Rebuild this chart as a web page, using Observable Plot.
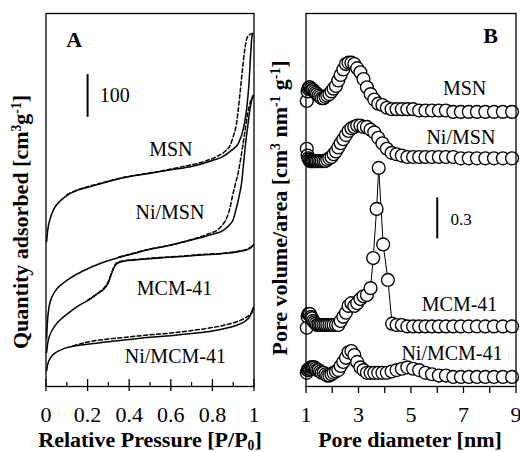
<!DOCTYPE html>
<html>
<head>
<meta charset="utf-8">
<script src="https://cdn.jsdelivr.net/npm/d3@7"></script>
<script src="https://cdn.jsdelivr.net/npm/@observablehq/plot@0.6"></script>
<style>
  html, body { margin: 0; padding: 0; background: #fff; }
  #fig { position: relative; width: 520px; height: 452px; font-family: "Liberation Serif", "Times New Roman", serif; color: #000; }
  #fig svg { position: absolute; top: 0; }
  .title { position: absolute; z-index: 2; font-weight: bold; font-size: 22px; line-height: 1; white-space: nowrap; }
  .title sup { font-size: 0.62em; vertical-align: 0.5em; line-height: 0; }
  .title sub { font-size: 0.62em; vertical-align: -0.25em; line-height: 0; }
  .ylab { transform: translate(-50%, -50%) rotate(-90deg); }
  .xlab { transform: translateX(-50%); }
</style>
</head>
<body>
<div id="fig">
  <div class="title ylab" style="left:20.5px; top:222px;">Quantity adsorbed [cm<sup>3</sup>g<sup>-1</sup>]</div>
  <div class="title ylab" style="left:280px; top:207.5px;">Pore volume/area [cm<sup>3</sup> nm<sup>-1</sup> g<sup>-1</sup>]</div>
  <div class="title xlab" style="left:150px; top:428.6px;">Relative Pressure [P/P<sub>0</sub>]</div>
  <div class="title xlab" style="left:410px; top:428.6px;">Pore diameter [nm]</div>
</div>
<script>
// ---- Panel A: N2 isotherms (quantity in cm3/g, curves stacked with offsets) ----
const samples = ["MSN", "Ni/MSN", "MCM-41", "Ni/MCM-41"];

const msnAdsP = [0.003, 0.008, 0.02, 0.04, 0.07, 0.1, 0.15, 0.2, 0.3, 0.42, 0.5, 0.6, 0.7, 0.8, 0.85, 0.89, 0.925, 0.95, 0.965, 0.975, 0.985, 0.99, 0.995];
const msnAdsQ = [339, 365, 393, 417, 435, 447, 459, 466, 480, 493, 499, 507, 515, 529, 538, 552, 569, 606, 651, 704, 786, 819, 826];
const msnDesP = [0.1, 0.15, 0.25, 0.35, 0.45, 0.55, 0.65, 0.75, 0.82, 0.86, 0.885, 0.9, 0.915, 0.925, 0.935, 0.945, 0.955, 0.965, 0.975, 0.985, 0.995];
const msnDesQ = [449, 460, 474, 487, 496, 504, 514, 525, 538, 550, 564, 585, 613, 651, 697, 744, 786, 814, 822, 825, 826];

const niMsnAdsP = [0.003, 0.008, 0.015, 0.03, 0.05, 0.08, 0.12, 0.18, 0.26, 0.35, 0.42, 0.5, 0.58, 0.66, 0.74, 0.8, 0.85, 0.88, 0.9, 0.915, 0.93, 0.94, 0.95, 0.96, 0.97, 0.98, 0.99, 0.997];
const niMsnAdsQ = [112, 159, 187, 211, 227, 241, 255, 271, 288, 302, 311, 321, 329, 338, 348, 356, 365, 377, 391, 417, 449, 475, 522, 571, 609, 646, 672, 681];
const niMsnDesP = [0.35, 0.42, 0.5, 0.6, 0.7, 0.78, 0.825, 0.85, 0.87, 0.885, 0.897, 0.91, 0.925, 0.94, 0.955, 0.97, 0.985, 0.997];
const niMsnDesQ = [303, 312, 322, 331, 344, 357, 367, 379, 396, 419, 447, 473, 503, 545, 592, 639, 670, 681];

const mcmAdsP = [0.003, 0.008, 0.02, 0.04, 0.07, 0.1, 0.15, 0.2, 0.25, 0.28, 0.3, 0.315, 0.33, 0.345, 0.37, 0.45, 0.55, 0.65, 0.75, 0.85, 0.93, 0.97, 0.99, 0.997];
const mcmAdsQ = [80, 101, 122, 140, 157, 169, 187, 201, 218, 229, 243, 264, 281, 289, 293, 297, 301, 304, 308, 311, 316, 321, 327, 332];
const mcmDesP = [0.2, 0.25, 0.28, 0.3, 0.315, 0.33, 0.345, 0.37, 0.45, 0.55, 0.65, 0.75, 0.85, 0.93, 0.97, 0.99, 0.997];
const mcmDesQ = [202, 219, 231, 246, 266, 283, 291, 294, 298, 302, 305, 309, 312, 317, 322, 328, 332];

const niMcmAdsP = [0.003, 0.008, 0.02, 0.04, 0.07, 0.1, 0.2, 0.3, 0.4, 0.5, 0.6, 0.7, 0.8, 0.87, 0.92, 0.96, 0.98, 0.99, 0.997];
const niMcmAdsQ = [37, 51, 66, 77, 85, 91, 99, 105, 110, 115, 119, 124, 130, 137, 144, 154, 164, 176, 185];
const niMcmDesP = [0.13, 0.2, 0.3, 0.4, 0.5, 0.6, 0.7, 0.8, 0.87, 0.92, 0.96, 0.98, 0.99, 0.997];
const niMcmDesQ = [95, 104, 111, 116, 121, 125, 131, 138, 145, 152, 161, 168, 173, 185];

const pressureTicks = [0, 0.2, 0.4, 0.6, 0.8, 1];
const pressureTickLabels = ["0", "0.2", "0.4", "0.6", "0.8", "1"];
const pressureMinorTicks = [0.1, 0.3, 0.5, 0.7, 0.9];

// ---- Panel B: pore size distributions (stacked with offsets) ----
const poreD = [1.03, 1.06, 1.09, 1.12, 1.15, 1.19, 1.23, 1.27, 1.32, 1.37, 1.42, 1.48, 1.54, 1.60, 1.67, 1.74, 1.81, 1.89, 1.97, 2.05,
  2.14, 2.23, 2.32, 2.42, 2.52, 2.62, 2.73, 2.84, 2.95, 3.07, 3.19, 3.32, 3.46, 3.60, 3.75, 3.91, 4.08, 4.26, 4.45, 4.65,
  4.86, 5.08, 5.31, 5.55, 5.80, 6.06, 6.33, 6.61, 6.90, 7.20, 7.51, 7.83, 8.16, 8.50, 8.85];
const mcmPoreD = [1.03, 1.06, 1.09, 1.12, 1.15, 1.19, 1.23, 1.27, 1.32, 1.37, 1.42, 1.48, 1.54, 1.60, 1.67, 1.74, 1.81, 1.89, 1.97, 2.05,
  2.14, 2.23, 2.32, 2.42, 2.52, 2.62, 2.73, 2.84, 2.95, 3.07, 3.19, 3.32, 3.46, 3.56, 3.69, 3.77, 3.94, 4.12, 4.28, 4.45,
  4.65, 4.86, 5.08, 5.31, 5.55, 5.80, 6.06, 6.33, 6.61, 6.90, 7.20, 7.51, 7.83, 8.16, 8.50, 8.85];

const msnPsd = [2.09, 2.16, 2.18, 2.19, 2.19, 2.18, 2.17, 2.17, 2.16, 2.15, 2.14, 2.13, 2.12, 2.11, 2.11, 2.12, 2.13, 2.14, 2.16, 2.18,
  2.20, 2.24, 2.28, 2.32, 2.36, 2.37, 2.37, 2.36, 2.33, 2.30, 2.25, 2.19, 2.14, 2.10, 2.07, 2.06, 2.04, 2.03, 2.03, 2.03,
  2.03, 2.03, 2.02, 2.02, 2.02, 2.02, 2.02, 2.01, 2.01, 2.01, 2.01, 2.01, 2.01, 2.01, 2.01];
const niMsnPsd = [1.74, 1.69, 1.67, 1.66, 1.65, 1.65, 1.65, 1.65, 1.65, 1.65, 1.65, 1.65, 1.65, 1.65, 1.65, 1.65, 1.66, 1.67, 1.68, 1.70,
  1.72, 1.75, 1.78, 1.81, 1.84, 1.87, 1.89, 1.90, 1.91, 1.91, 1.90, 1.90, 1.88, 1.86, 1.82, 1.78, 1.74, 1.71, 1.70, 1.69,
  1.68, 1.68, 1.68, 1.68, 1.68, 1.68, 1.68, 1.68, 1.67, 1.67, 1.67, 1.67, 1.67, 1.67, 1.67];
const mcmPsd = [0.43, 0.51, 0.53, 0.53, 0.53, 0.51, 0.50, 0.48, 0.47, 0.46, 0.45, 0.45, 0.45, 0.45, 0.45, 0.45, 0.45, 0.45, 0.45, 0.45,
  0.45, 0.45, 0.48, 0.51, 0.54, 0.59, 0.61, 0.59, 0.61, 0.64, 0.66, 0.67, 0.72, 0.94, 1.30, 1.60, 1.04, 0.78, 0.46, 0.45,
  0.45, 0.44, 0.44, 0.44, 0.44, 0.44, 0.44, 0.44, 0.44, 0.44, 0.44, 0.44, 0.44, 0.44, 0.44, 0.44];
const niMcmPsd = [0.10, 0.12, 0.12, 0.13, 0.13, 0.14, 0.14, 0.14, 0.14, 0.13, 0.12, 0.12, 0.11, 0.10, 0.10, 0.09, 0.08, 0.08, 0.09, 0.10,
  0.11, 0.12, 0.15, 0.18, 0.21, 0.25, 0.26, 0.23, 0.18, 0.14, 0.12, 0.10, 0.10, 0.10, 0.10, 0.10, 0.10, 0.11, 0.12, 0.13,
  0.14, 0.13, 0.12, 0.10, 0.09, 0.08, 0.08, 0.07, 0.07, 0.07, 0.07, 0.07, 0.07, 0.07, 0.07];

const poreTicks = [1, 2, 3, 4, 5, 6, 7, 8, 9];
const poreLabelTicks = [1, 3, 5, 7, 9];
const poreTickLabels = ["1", "3", "5", "7", "9"];

// ---- tables for the marks ----
const pairs = (sample, xs, ys) => xs.map((x, i) => ({sample, x, y: ys[i]}));

const adsorption = [
  ...pairs(samples[0], msnAdsP, msnAdsQ),
  ...pairs(samples[1], niMsnAdsP, niMsnAdsQ),
  ...pairs(samples[2], mcmAdsP, mcmAdsQ),
  ...pairs(samples[3], niMcmAdsP, niMcmAdsQ)
];
const desorption = [
  ...pairs(samples[0], msnDesP, msnDesQ),
  ...pairs(samples[1], niMsnDesP, niMsnDesQ),
  ...pairs(samples[2], mcmDesP, mcmDesQ),
  ...pairs(samples[3], niMcmDesP, niMcmDesQ)
];
const psd = [
  ...pairs(samples[0], poreD, msnPsd),
  ...pairs(samples[1], poreD, niMsnPsd),
  ...pairs(samples[2], mcmPoreD, mcmPsd),
  ...pairs(samples[3], poreD, niMcmPsd)
];

// label anchors in each panel's data units
const isothermLabelAt = {"MSN": [0.6, 555], "Ni/MSN": [0.596, 407], "MCM-41": [0.618, 228], "Ni/MCM-41": [0.622, 69]};
const psdLabelAt = {"MSN": [7.04, 2.18], "Ni/MSN": [6.9, 1.825], "MCM-41": [6.85, 0.6], "Ni/MCM-41": [6.56, 0.238]};

const svgStyle = {fontFamily: "'Liberation Serif', 'Times New Roman', serif", fontSize: "20px", color: "#000", background: "transparent", overflow: "visible"};
const blank = () => "";

const plotA = Plot.plot({
  width: 260, height: 452,
  marginLeft: 45.5, marginRight: 6.5, marginTop: 13, marginBottom: 66,
  style: svgStyle,
  x: {domain: [0, 1], label: null},
  y: {domain: [0, 873], axis: null},
  marks: [
    Plot.line(adsorption, {x: "x", y: "y", z: "sample", stroke: "#000", strokeWidth: 1.5, curve: "monotone-x"}),
    Plot.line(desorption, {x: "x", y: "y", z: "sample", stroke: "#000", strokeWidth: 1.5, strokeDasharray: "4,2.5", curve: "monotone-x"}),
    Plot.frame({stroke: "#000", strokeWidth: 1.3}),
    Plot.text(samples, {x: s => isothermLabelAt[s][0], y: s => isothermLabelAt[s][1], text: s => s, fontSize: 20}),
    // 100 cm3/g scale bar
    Plot.ruleX([0.2], {y1: 630, y2: 730, stroke: "#000", strokeWidth: 2}),
    Plot.text(["100"], {x: 0.259, y: 681, textAnchor: "start", fontSize: 20}),
    Plot.text(["A"], {x: 0.135, y: 812, fontWeight: "bold", fontSize: 22}),
    Plot.axisX({ticks: pressureTicks, tickSize: 0, tickPadding: 20, fontSize: 22,
      tickFormat: d => pressureTickLabels[pressureTicks.indexOf(d)]}),
    Plot.axisX({ticks: pressureTicks, tickSize: 5, tickFormat: blank, strokeWidth: 1.3}),
    Plot.axisX({ticks: pressureTicks, tickSize: -7, tickFormat: blank, strokeWidth: 1.3}),
    Plot.axisX({ticks: pressureMinorTicks, tickSize: -4, tickFormat: blank, strokeWidth: 1.2})
  ]
});

const plotB = Plot.plot({
  width: 260, height: 452,
  marginLeft: 45.5, marginRight: 4.5, marginTop: 13, marginBottom: 66,
  style: svgStyle,
  x: {domain: [1, 9], label: null},
  y: {domain: [0, 2.73], axis: null},
  marks: [
    Plot.line(psd, {x: "x", y: "y", z: "sample", stroke: "#000", strokeWidth: 1}),
    Plot.dot(psd, {x: "x", y: "y", r: 6.4, fill: "#fff", stroke: "#000", strokeWidth: 1.35}),
    Plot.frame({stroke: "#000", strokeWidth: 1.3}),
    Plot.text(samples, {x: s => psdLabelAt[s][0], y: s => psdLabelAt[s][1], text: s => s, fontSize: 20}),
    // 0.3 cm3 nm-1 g-1 scale bar
    Plot.ruleX([6], {y1: 1.08, y2: 1.38, stroke: "#000", strokeWidth: 2}),
    Plot.text(["0.3"], {x: 6.5, y: 1.22, textAnchor: "start", fontSize: 17}),
    Plot.text(["B"], {x: 8.03, y: 2.564, fontWeight: "bold", fontSize: 22}),
    Plot.axisX({ticks: poreLabelTicks, tickSize: 0, tickPadding: 20, fontSize: 22,
      tickFormat: d => poreTickLabels[poreLabelTicks.indexOf(d)]}),
    Plot.axisX({ticks: poreTicks, tickSize: 7, tickFormat: blank, strokeWidth: 1.3})
  ]
});

const fig = document.getElementById("fig");
plotA.style.left = "0px";
plotB.style.left = "260px";
fig.insertBefore(plotB, fig.firstChild);
fig.insertBefore(plotA, fig.firstChild);
</script>
</body>
</html>
